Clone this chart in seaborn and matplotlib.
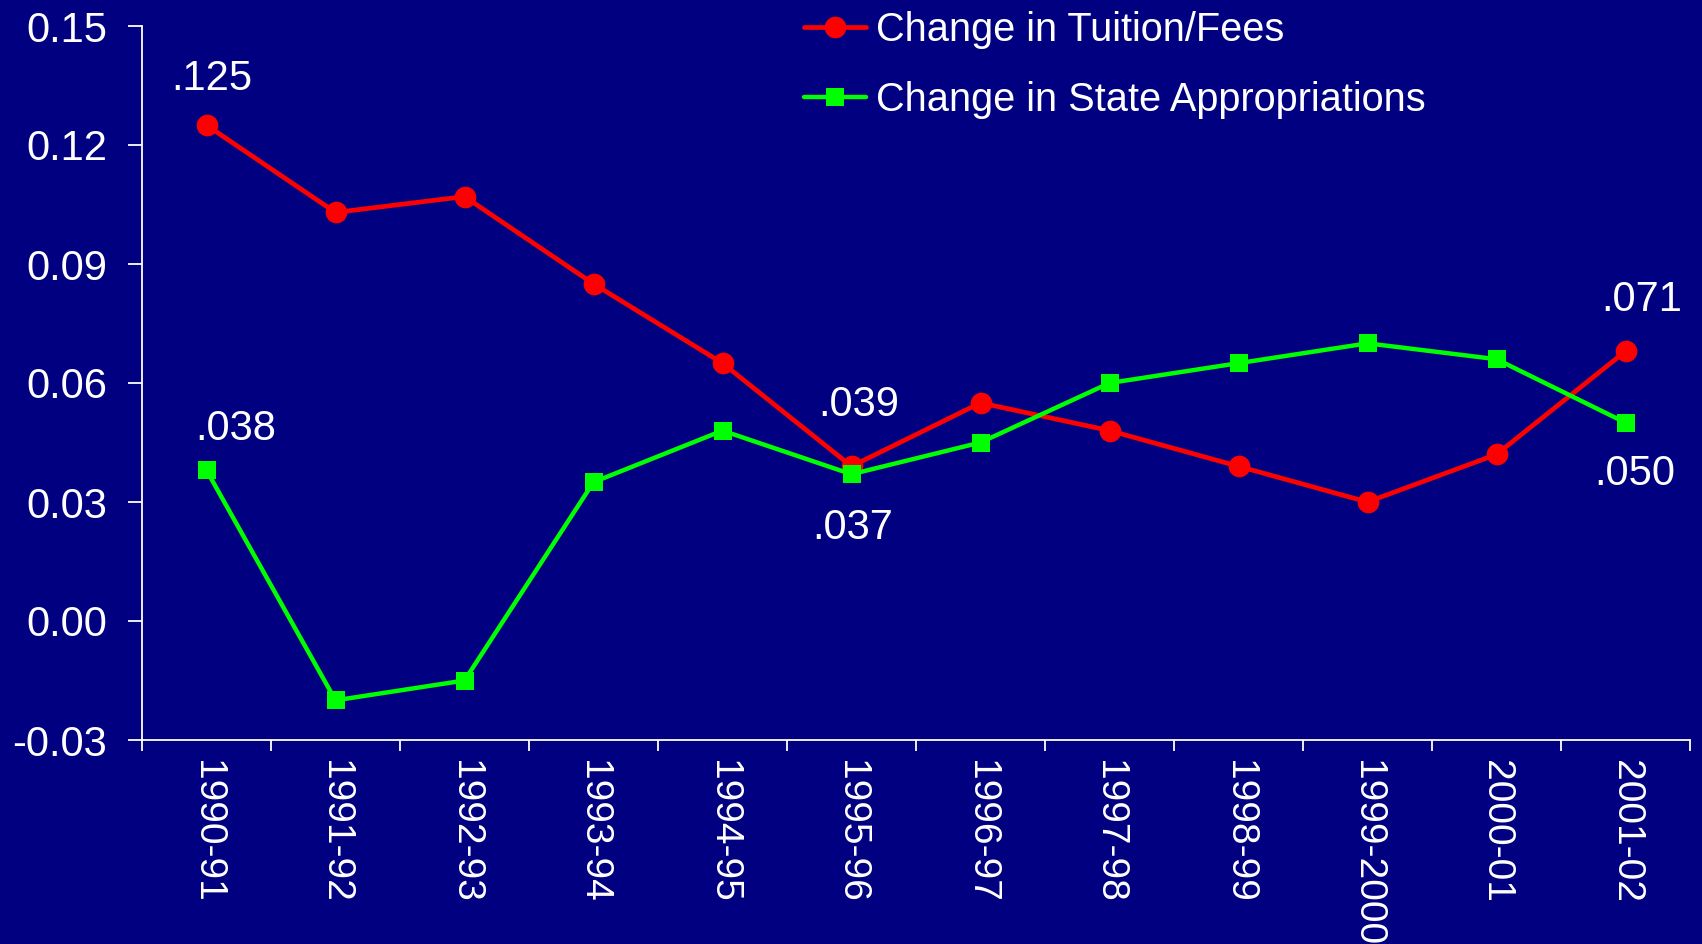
import numpy as np
import pandas as pd
import matplotlib
matplotlib.use("Agg")
import matplotlib.pyplot as plt
import seaborn as sns

# values
years = ["1990-91", "1991-92", "1992-93", "1993-94", "1994-95", "1995-96",
         "1996-97", "1997-98", "1998-99", "1999-2000", "2000-01", "2001-02"]
tuition = [0.125, 0.103, 0.107, 0.085, 0.065, 0.039,
           0.055, 0.048, 0.039, 0.030, 0.042, 0.068]
state_approp = [0.038, -0.020, -0.015, 0.035, 0.048, 0.037,
                0.045, 0.060, 0.065, 0.070, 0.066, 0.050]
y_ticks = [-0.03, 0.00, 0.03, 0.06, 0.09, 0.12, 0.15]

# point labels: (series, year index, text, offset in points)
point_labels = [
    ("tuition", 0, ".125", (4, 33)),
    ("state", 0, ".038", (21, 30)),
    ("tuition", 5, ".039", (5, 44)),
    ("state", 5, ".037", (1, -39)),
    ("tuition", 11, ".071", (12, 37)),
    ("state", 11, ".050", (7, -37)),
]

BG = "#000080"
RED = "#ff0000"
GREEN = "#00ff00"

sns.set_style("dark")
plt.rcParams["font.family"] = ["Liberation Sans", "DejaVu Sans"]
plt.rcParams["axes.unicode_minus"] = False

fig = plt.figure(figsize=(17.02, 9.44), dpi=100, facecolor=BG)
ax = fig.add_axes([142 / 1702, 1 - 740 / 944, 1548 / 1702, 714 / 944])
ax.set_facecolor(BG)

df = pd.DataFrame({"year": years, "pos": np.arange(len(years)),
                   "tuition": tuition, "state": state_approp})

sns.lineplot(data=df, x="pos", y="tuition", color=RED, marker="o",
             markersize=15.6, markeredgewidth=0, linewidth=3.4, sort=False,
             label="Change in Tuition/Fees", ax=ax)
sns.lineplot(data=df, x="pos", y="state", color=GREEN, marker="s",
             markersize=12.5, markeredgewidth=0, linewidth=3.2, sort=False,
             label="Change in State Appropriations", ax=ax)

for series, i, txt, off in point_labels:
    ax.annotate(txt, xy=(df["pos"][i], df[series][i]), xytext=off,
                textcoords="offset points", ha="center", va="center",
                color="white", fontsize=30)

# axes, ticks between categories like the original
ax.set_xlim(-0.5, len(years) - 0.5)
ax.set_ylim(-0.03, 0.15)
ax.set_xticks(np.arange(len(years)))
ax.set_xticklabels(years, rotation=-90, va="top", ha="center")
ax.set_xticks(np.arange(len(years) + 1) - 0.5, minor=True)
ax.set_yticks(y_ticks)
ax.set_yticklabels([f"{v:.2f}" for v in y_ticks])
ax.set_xlabel("")
ax.set_ylabel("")
ax.grid(False)

ax.tick_params(axis="x", which="major", length=0, pad=14.5,
               labelsize=28, labelcolor="white")
ax.tick_params(axis="x", which="minor", length=8, width=1.3,
               color="white", direction="out", bottom=True)
ax.tick_params(axis="y", length=10, width=1.3, color="white",
               direction="out", pad=15, labelsize=30, labelcolor="white", left=True)

for side in ["top", "right"]:
    ax.spines[side].set_visible(False)
for side in ["left", "bottom"]:
    ax.spines[side].set_color("white")
    ax.spines[side].set_linewidth(1.3)

ax.get_legend().remove()
handles, labels = ax.get_legend_handles_labels()
leg = fig.legend(handles, labels, loc="upper left",
                 bbox_to_anchor=(804 / 1702, 1 - 11 / 944),
                 frameon=False, fontsize=28.6, labelcolor="white",
                 handlelength=1.55, handletextpad=0.25, labelspacing=0.8,
                 borderpad=0, borderaxespad=0)

fig.savefig("out.png", dpi=100, facecolor=BG)
